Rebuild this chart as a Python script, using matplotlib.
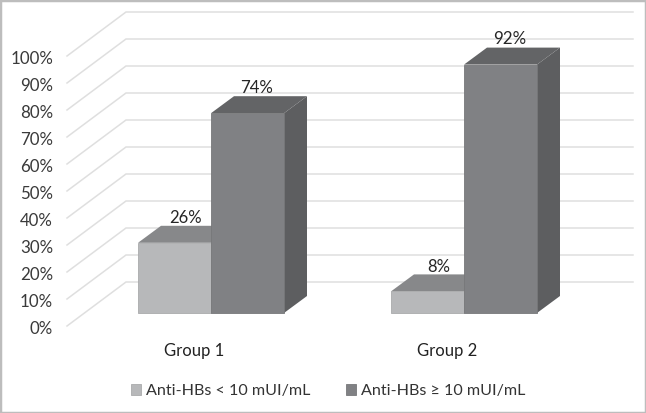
#!/usr/bin/env python
import matplotlib
matplotlib.use("Agg")
import matplotlib.pyplot as plt
from matplotlib.patches import Rectangle
import numpy as np

plt.rcParams['font.family'] = ['Lato', 'DejaVu Sans']

groups = ["Group 1", "Group 2"]
low_label = "Anti-HBs < 10 mUI/mL"
high_label = "Anti-HBs ≥ 10 mUI/mL"
low_values = [26, 8]
high_values = [74, 92]
ticks = [0, 10, 20, 30, 40, 50, 60, 70, 80, 90, 100]

dpi = 100
fig = plt.figure(figsize=(646/dpi, 413/dpi), dpi=dpi)
ax = fig.add_axes([0, 0, 1, 1])

# one group step is 253 px, one percent is 2.7 px
px_x = 1 / 253
px_y = 1 / 2.7
ax.set_xlim(-211 * px_x, (646 - 211) * px_x)
ax.set_ylim(-100 * px_y, 313 * px_y)
ax.axis("off")

# oblique projection offsets
bar_w = 73 * px_x
bar_dx, bar_dy = 23 * px_x, 17 * px_y
floor_front = -13 * px_y
wall_dx, wall_dy = 59 * px_x, 44 * px_y
wall_x = -144 * px_x
wall_end = 422 * px_x

grid_c = "#dfdfdf"
for t in ticks:
    ax.plot([wall_x, wall_x + wall_dx, wall_end],
            [t + floor_front, t + floor_front + wall_dy, t + floor_front + wall_dy],
            color=grid_c, lw=1.1, zorder=1, solid_joinstyle="miter")
    ax.text(wall_x - 14 * px_x, t + floor_front - 3 * px_y, f"{t}%", ha="right", va="center",
            fontsize=12.2, color="#3a3a3a")


def bar3d(x0, val, top, side, z):
    x1 = x0 + bar_w
    ax.fill([x1, x1 + bar_dx, x1 + bar_dx, x1], [0, bar_dy, val + bar_dy, val],
            color=side, lw=0, zorder=z)
    ax.fill([x0, x0 + bar_dx, x1 + bar_dx, x1], [val, val + bar_dy, val + bar_dy, val],
            color=top, lw=0, zorder=z)


x = np.arange(len(groups))
for i in x:
    bar3d(i - bar_w, low_values[i], "#87888a", "#6f7072", 2)
    bar3d(i, high_values[i], "#636466", "#5d5e60", 4)

low_bars = ax.bar(x - bar_w / 2, low_values, bar_w, color="#b7b8ba",
                  edgecolor="#a9aaac", lw=0.6, zorder=3, label=low_label)
high_bars = ax.bar(x + bar_w / 2, high_values, bar_w, color="#808184",
                   edgecolor="#77787a", lw=0.6, zorder=5, label=high_label)

for i in x:
    ax.text(i - 25 * px_x, low_values[i] + bar_dy - 0.1, f"{low_values[i]}%",
            ha="center", va="bottom", fontsize=12, color="#262626", zorder=6)
    ax.text(i + 46 * px_x, high_values[i] + bar_dy + 0.2, f"{high_values[i]}%",
            ha="center", va="bottom", fontsize=12.2, color="#262626", zorder=6)
    ax.text(i - 17 * px_x, -38 * px_y, groups[i], ha="center", va="center",
            fontsize=12, color="#222222")

ax.legend(handles=[low_bars, high_bars], ncol=2, frameon=False, loc="center",
          bbox_to_anchor=(328 / 646, 1 - 391 / 413), fontsize=11.6,
          handlelength=0.62, handleheight=0.7, handletextpad=0.3, columnspacing=2.25,
          labelcolor="#333333", borderpad=0)

# picture frame
ax.add_patch(Rectangle((0, 0), 1, 1, transform=ax.transAxes, fill=False,
                       edgecolor="#bdbdbd", lw=2.5, zorder=10))

fig.savefig("out.png", dpi=dpi)
